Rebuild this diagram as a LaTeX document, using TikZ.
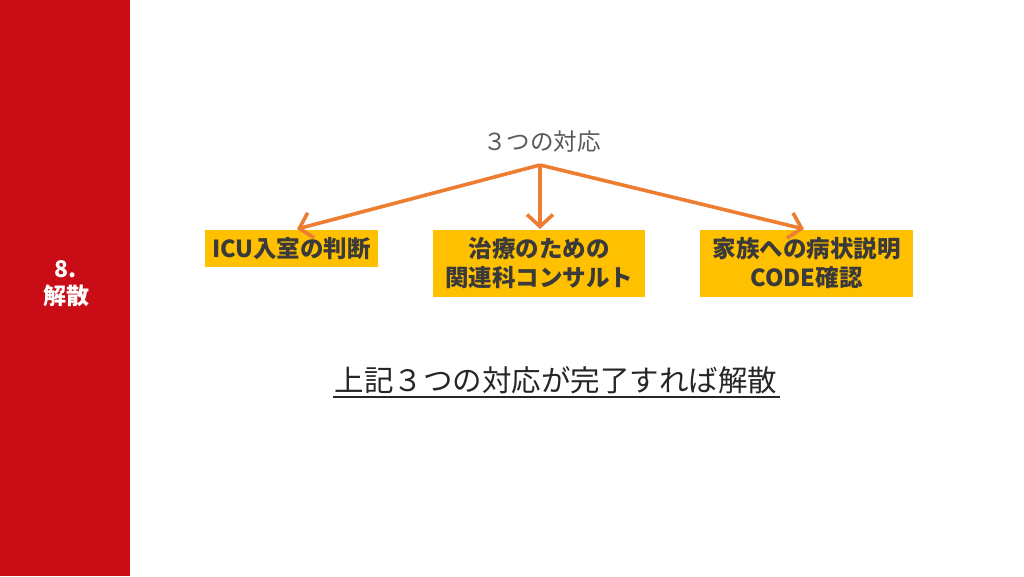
\documentclass[tikz,border=0pt]{standalone}
\usepackage{fontspec}
\setmainfont{Noto Sans CJK JP}
\usetikzlibrary{arrows.meta}
\definecolor{barred}{HTML}{C90C15}
\definecolor{boxfill}{HTML}{FFC000}
\definecolor{arr}{HTML}{ED7D31}
\definecolor{txtdark}{HTML}{3A3A3A}
\definecolor{txtgray}{HTML}{595959}
\begin{document}
\begin{tikzpicture}[x=1pt,y=-1pt,
  optbox/.style={fill=boxfill, inner sep=0pt, text=txtdark, font=\fontsize{23.5}{29}\selectfont\bfseries, align=center},
  flow/.style={draw=arr, line width=3.6pt, -{Straight Barb[length=12pt,width=26pt,line width=3.6pt]}}]
\useasboundingbox (0,0) rectangle (1024,576);
\fill[white] (0,0) rectangle (1024,576);
\fill[barred] (0,0) rectangle (130,576);
\node[text=white, font=\fontsize{23}{27}\selectfont\bfseries, align=center] (sec) at (66,284) {8.\\解散};
\node[text=txtgray, font=\fontsize{23.5}{26}\selectfont] (title) at (542,142) {３つの対応};
\coordinate (src) at (540,165);
\node[optbox, minimum width=173pt, minimum height=37pt] (b1) at (291.5,248.5) {ICU入室の判断};
\node[optbox, minimum width=212pt, minimum height=67pt] (b2) at (539,263.5) {治療のための\\関連科コンサルト};
\node[optbox, minimum width=213pt, minimum height=67pt] (b3) at (806.5,263.5) {家族への病状説明\\CODE確認};
\draw[flow] (src) -- (297,229);
\draw[flow] (src) -- (540,229);
\draw[flow] (src) -- (804,229);
\node[text=black!85, font=\fontsize{29.5}{32}\selectfont, inner sep=0pt] (final) at (556,380) {上記３つの対応が完了すれば解散};
\draw[black!85, line width=1.8pt] (333,397) -- (780,397);
\end{tikzpicture}
\end{document}
